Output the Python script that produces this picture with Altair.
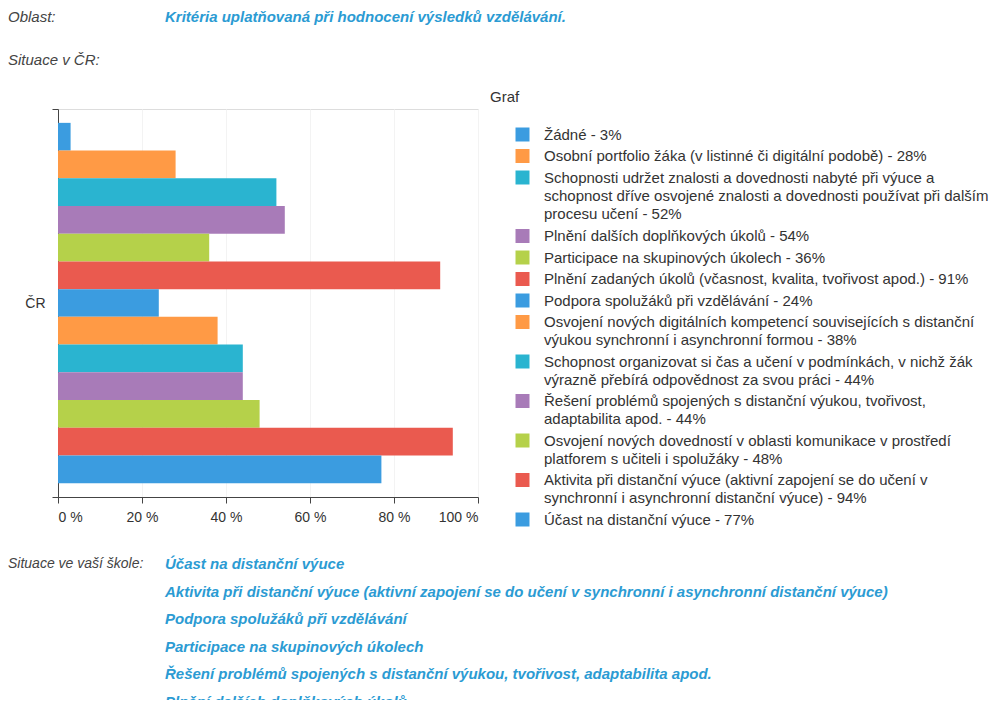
import altair as alt
import pandas as pd

criteria = [
    "Žádné",
    "Osobní portfolio žáka (v listinné či digitální podobě)",
    "Schopnosti udržet znalosti a dovednosti nabyté při výuce a|schopnost dříve osvojené znalosti a dovednosti používat při dalším|procesu učení",
    "Plnění dalších doplňkových úkolů",
    "Participace na skupinových úkolech",
    "Plnění zadaných úkolů (včasnost, kvalita, tvořivost apod.)",
    "Podpora spolužáků při vzdělávání",
    "Osvojení nových digitálních kompetencí souvisejících s distanční|výukou synchronní i asynchronní formou",
    "Schopnost organizovat si čas a učení v podmínkách, v nichž žák|výrazně přebírá odpovědnost za svou práci",
    "Řešení problémů spojených s distanční výukou, tvořivost,|adaptabilita apod.",
    "Osvojení nových dovedností v oblasti komunikace v prostředí|platforem s učiteli i spolužáky",
    "Aktivita při distanční výuce (aktivní zapojení se do učení v|synchronní i asynchronní distanční výuce)",
    "Účast na distanční výuce",
]
values = [3, 28, 52, 54, 36, 91, 24, 38, 44, 44, 48, 94, 77]
colors = ["#3b9ce0", "#ff9a45", "#2ab4d0", "#a87bb8", "#b5d14a", "#ea5a4f",
          "#3b9ce0", "#ff9a45", "#2ab4d0", "#a87bb8", "#b5d14a", "#ea5a4f",
          "#3b9ce0"]
group = "ČR"
x_ticks = [0, 20, 40, 60, 80, 100]

school_items = [
    "Účast na distanční výuce",
    "Aktivita při distanční výuce (aktivní zapojení se do učení v synchronní i asynchronní distanční výuce)",
    "Podpora spolužáků při vzdělávání",
    "Participace na skupinových úkolech",
    "Řešení problémů spojených s distanční výukou, tvořivost, adaptabilita apod.",
    "Plnění dalších doplňkových úkolů",
]

LINE_H = 18.3

labels = [f"{c} - {v}%" for c, v in zip(criteria, values)]
df = pd.DataFrame({"label": labels, "value": values, "group": [group] * len(values)})

FONT = "Liberation Sans"
BLUE_TXT = "#2b9bd3"

bars = alt.Chart(df).mark_bar().encode(
    x=alt.X("value:Q",
            scale=alt.Scale(domain=[0, 100], nice=False),
            axis=alt.Axis(values=x_ticks, labelExpr="datum.value + ' %'", title=None,
                          grid=True, gridColor="#f3f3f3", domainColor="#444",
                          tickColor="#444", tickSize=6, labelPadding=7,
                          labelFont=FONT, labelFontSize=14, labelColor="#333")),
    y=alt.Y("group:N",
            scale=alt.Scale(paddingInner=0, paddingOuter=0),
            axis=alt.Axis(title=None, tickBand="extent", domainColor="#444", tickColor="#444",
                          tickSize=6, labelPadding=7, labelFont=FONT, labelFontSize=14,
                          labelColor="#333")),
    yOffset=alt.YOffset("label:N", sort=labels,
                        scale=alt.Scale(paddingInner=0, paddingOuter=0.5)),
    color=alt.Color("label:N", sort=labels,
                    scale=alt.Scale(domain=labels, range=colors),
                    legend=alt.Legend(orient="none", legendX=457, legendY=18, title=None,
                                      padding=0, symbolType="square",
                                      symbolSize=196, symbolStrokeWidth=0,
                                      symbolOpacity=1,
                                      labelExpr="split(datum.label, '|')",
                                      labelBaseline="middle", labelFont=FONT,
                                      labelFontSize=15, labelColor="#333",
                                      labelLimit=600, labelOffset=14,
                                      rowPadding=5.5)),
)

def txt(text, x, y, color="#444", bold=False, size=15):
    return alt.Chart(pd.DataFrame({"t": [text]})).mark_text(
        align="left", baseline="middle", font=FONT, fontStyle="italic",
        fontWeight="bold" if bold else "normal", fontSize=size, color=color,
        lineBreak="\n", lineHeight=27.5,
    ).encode(text="t:N", x=alt.value(x), y=alt.value(y))

ann = [
    txt("Oblast:", -50, -92),
    txt("Kritéria uplatňovaná při hodnocení výsledků vzdělávání.", 107, -92, BLUE_TXT, True),
    txt("Situace v ČR:", -50, -49),
    alt.Chart(pd.DataFrame({"t": ["Graf"]})).mark_text(
        align="left", baseline="middle", font=FONT, fontSize=15, color="#333"
    ).encode(text="t:N", x=alt.value(432), y=alt.value(-12)),
    txt("Situace ve vaší škole:", -50, 455, size=14),
    txt("\n".join(school_items), 107, 455, BLUE_TXT, True),
]

chart = alt.layer(bars, *ann).properties(
    width=420, height=388,
    padding={"left": 50, "top": 101, "right": 514, "bottom": 203},
    autosize=alt.AutoSizeParams(type="none"),
).configure_view(stroke=None).configure(
    style={"guide-label": {"lineHeight": LINE_H}}
)

chart.save("out.html", embed_options={"renderer": "svg", "actions": False})
